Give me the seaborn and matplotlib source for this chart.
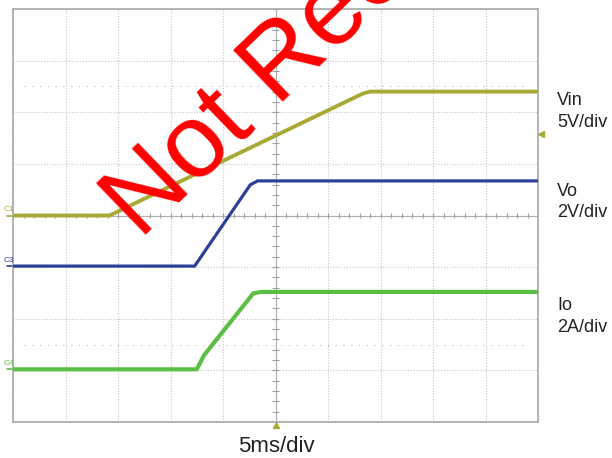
import numpy as np
import pandas as pd
import matplotlib.pyplot as plt
import seaborn as sns

# scope traces (time in ms, values in V / A)
time_vin_ms = [0, 9.2, 33.3, 34.0, 50]
vin_v = [0, 0, 11.8, 12, 12]
time_vo_ms = [0, 17.3, 22.6, 23.3, 50]
vo_v = [0, 0, 3.15, 3.3, 3.3]
time_io_ms = [0, 17.5, 18.2, 22.9, 23.7, 50]
io_a = [0, 0, 0.55, 2.95, 3.0, 3.0]

ms_per_div = 5
channel_names = ["Vin", "Vo", "Io"]
channel_tags = ["C1", "C3", "C4"]
channel_scales = [5, 2, 2]          # units per division
channel_offsets = [4.0, 3.02, 1.02]  # ground position in divisions
channel_units = ["5V/div", "2V/div", "2A/div"]
channel_colors = ["#A8AA36", "#2E3F98", "#5CBF45"]
channel_widths = [2.8, 2.3, 3.0]

sns.set_style("white")
plt.rcParams["font.family"] = ["Liberation Sans", "DejaVu Sans"]

fig = plt.figure(figsize=(6.12, 4.58), dpi=100)
ax = fig.add_axes([13 / 612, 36 / 458, 525 / 612, 413 / 458])

# graticule
ax.set_xlim(0, 10)
ax.set_ylim(0, 8)
ax.set_xticks(range(11))
ax.set_yticks(range(9))
ax.tick_params(length=0, labelbottom=False, labelleft=False)
ax.grid(True, linestyle=(0, (1, 1.5)), color="#c4c4c4", linewidth=0.8)
for s in ax.spines.values():
    s.set_color("#a8a8a8")
    s.set_linewidth(1.2)
ax.axhline(4, color="#b0b0b0", lw=0.8, zorder=1)
ax.axvline(5, color="#b0b0b0", lw=0.8, zorder=1)
ax.vlines(np.arange(0, 10.01, 0.2), 3.95, 4.05, color="#a0a0a0", lw=0.8)
ax.hlines(np.arange(0, 8.01, 0.2), 4.93, 5.07, color="#a0a0a0", lw=0.8)
for yy in [1.5, 6.5]:
    ax.axhline(yy, xmin=0.02, xmax=0.98, color="#b8b8b8", lw=0.8,
               linestyle=(0, (1, 6)))

traces = [(time_vin_ms, vin_v), (time_vo_ms, vo_v), (time_io_ms, io_a)]
for i, (t, v) in enumerate(traces):
    df = pd.DataFrame({
        "div_x": np.array(t) / ms_per_div,
        "div_y": np.array(v) / channel_scales[i] + channel_offsets[i],
    })
    sns.lineplot(data=df, x="div_x", y="div_y", ax=ax, estimator=None,
                 sort=False, color=channel_colors[i],
                 linewidth=channel_widths[i], zorder=3)
    # channel ground marker on the left edge
    ax.plot([-0.12, 0], [channel_offsets[i]] * 2, color=channel_colors[i],
            lw=1.2, clip_on=False)
    ax.text(-0.17, channel_offsets[i] + 0.05, channel_tags[i], fontsize=6,
            color=channel_colors[i], ha="left", va="bottom")
ax.set_xlabel("")
ax.set_ylabel("")

# trigger markers
ax.plot([5], [-0.06], marker="^", color=channel_colors[0], ms=5,
        clip_on=False)
ax.plot([10.05], [5.58], marker="<", color=channel_colors[0], ms=5,
        clip_on=False)

# right-side labels
label_y = [(100, 122), (192, 213), (305, 327)]
for i, (y1, y2) in enumerate(label_y):
    fig.text(557 / 612, 1 - y1 / 458, channel_names[i], fontsize=13,
             color="#222222", va="center", ha="left")
    fig.text(557 / 612, 1 - y2 / 458, channel_units[i], fontsize=13,
             color="#222222", va="center", ha="left")

fig.text(276 / 612, 1 - 452 / 458, "5ms/div", fontsize=16,
         color="#222222", ha="center", va="baseline")

# watermark
fig.text(140 / 612, 1 - 240 / 458, "Not Recommended", rotation=44,
         rotation_mode="anchor", ha="left", va="baseline", fontsize=75,
         color="#FF0000", zorder=10)

plt.savefig("out.png", dpi=100)
